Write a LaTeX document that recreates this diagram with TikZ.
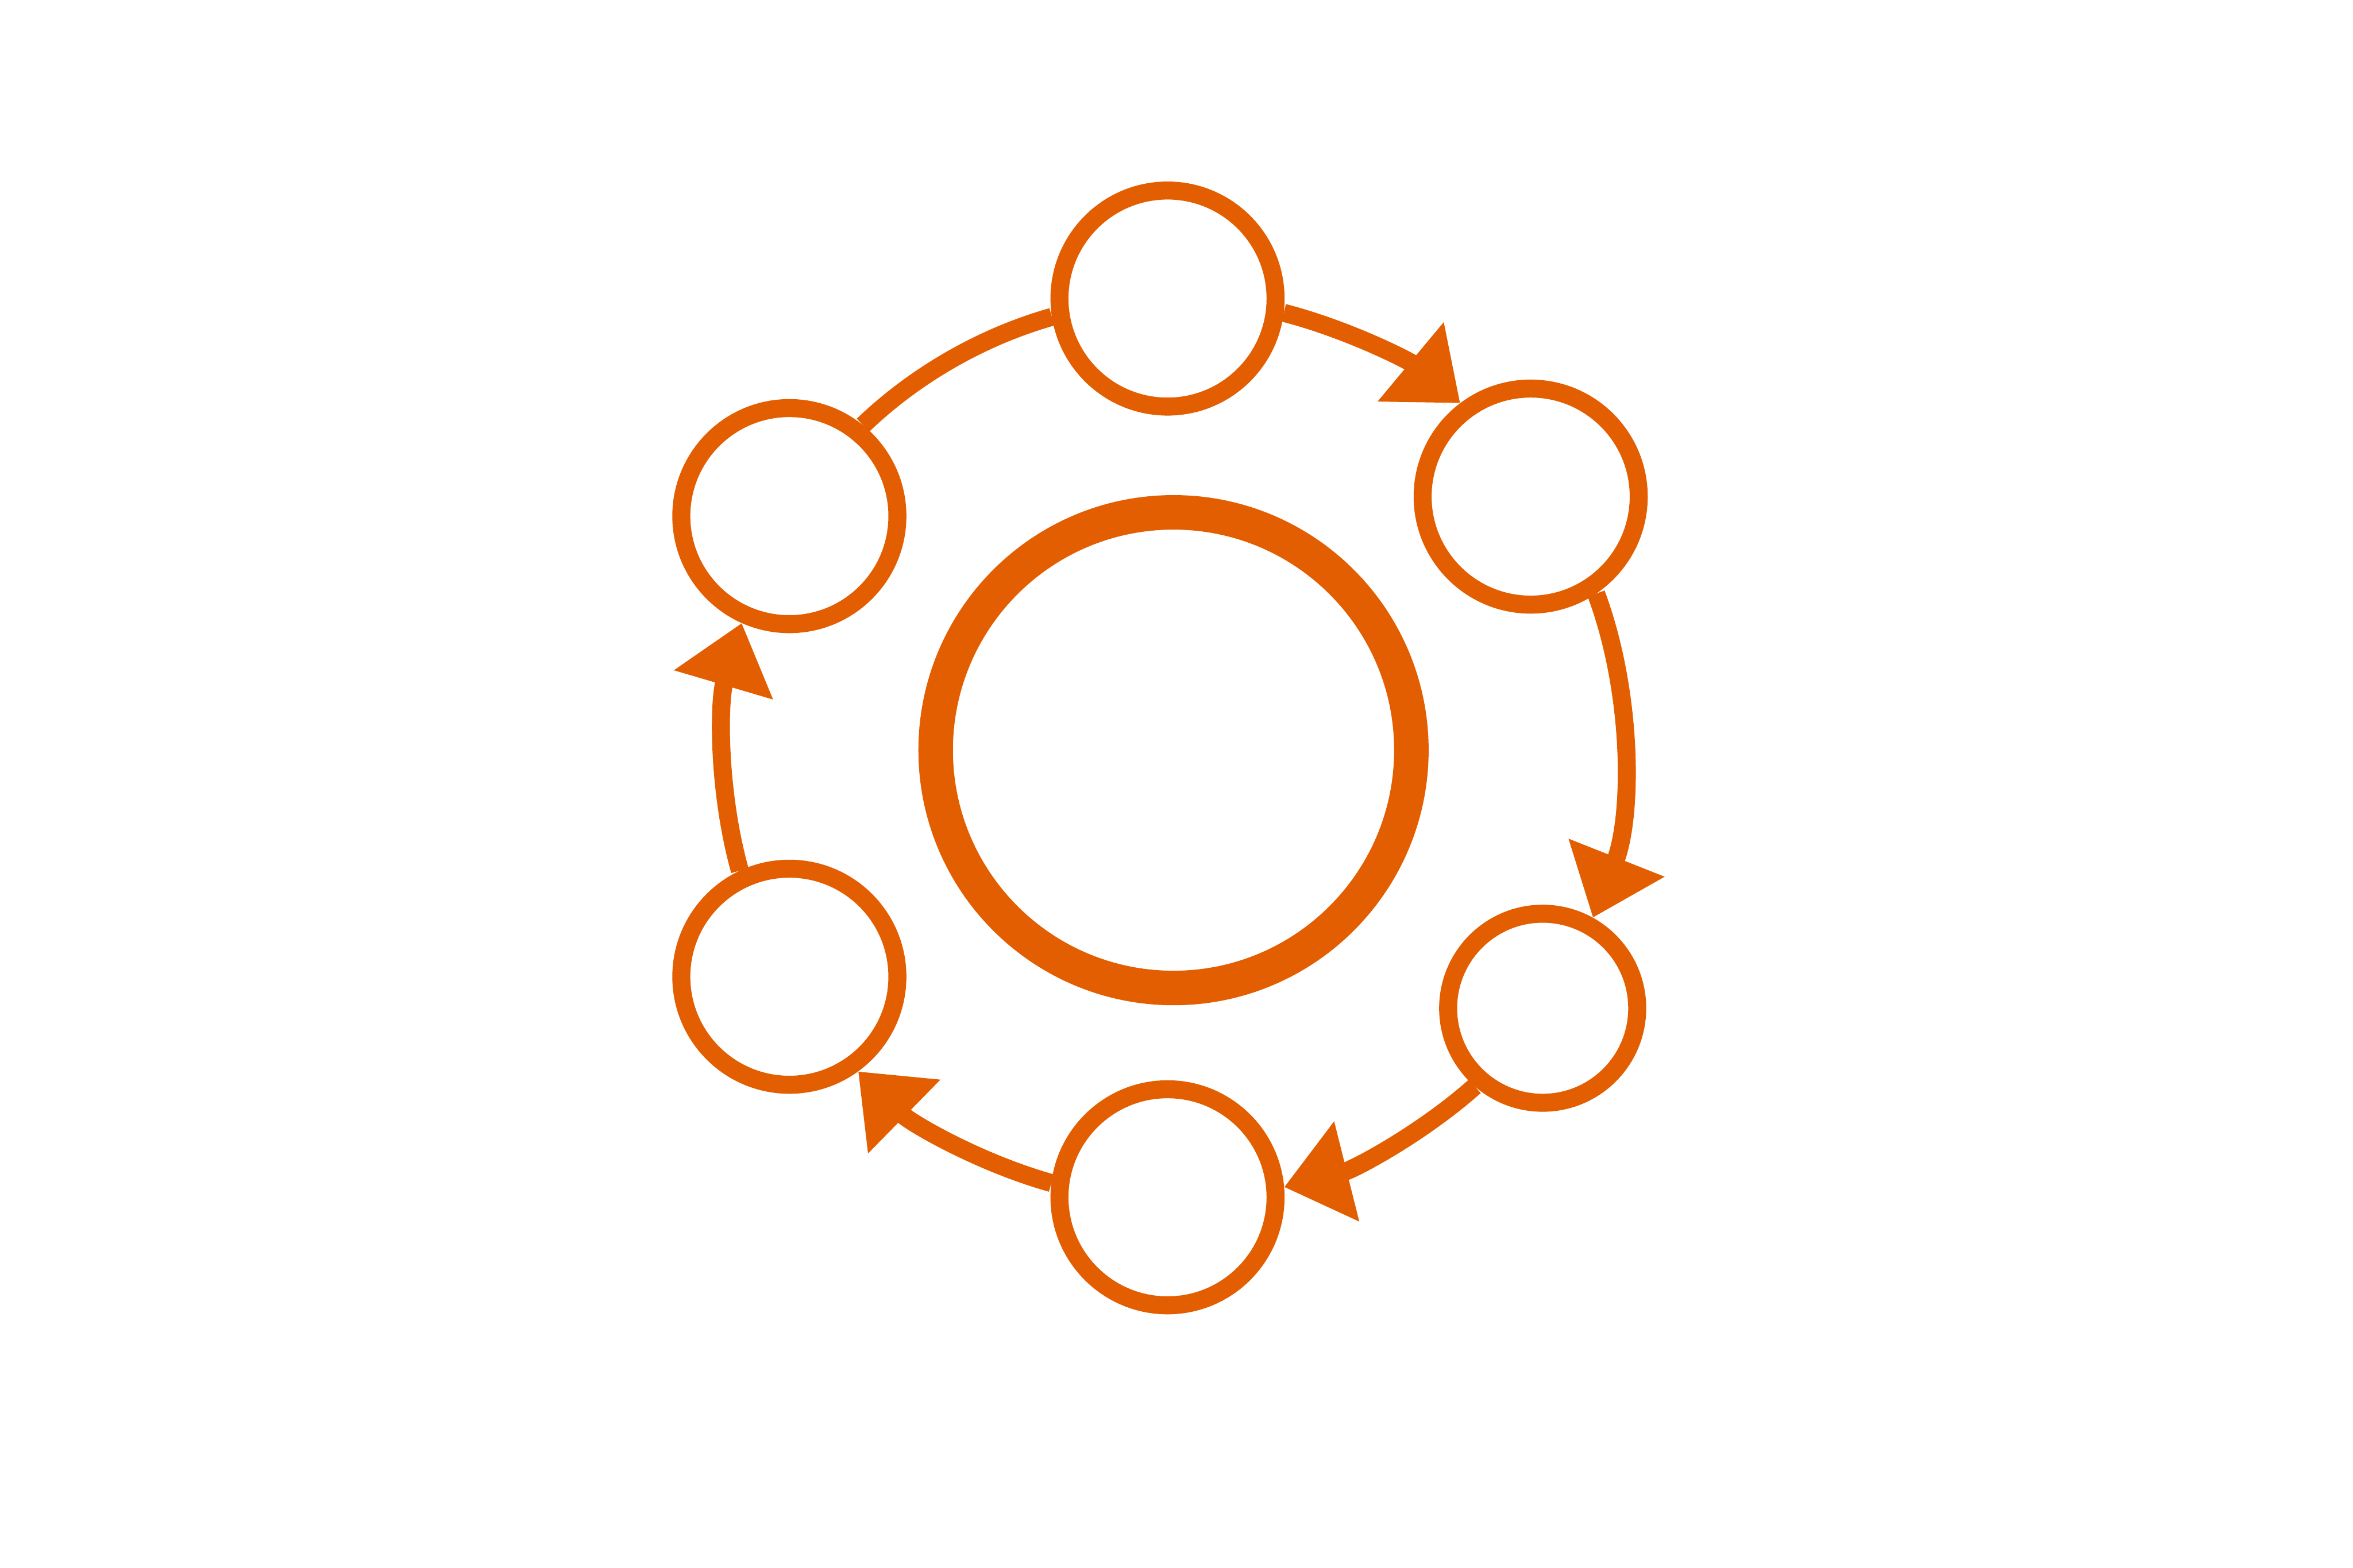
\documentclass[tikz,border=0pt]{standalone}
\usepackage{tikz}
\usetikzlibrary{arrows.meta}
\definecolor{rust}{HTML}{E35E00}

\begin{document}
\begin{tikzpicture}[
  stage/.style={circle, draw=rust, fill=white, line width=0.12cm, minimum size=1.44cm, inner sep=0pt},
  hubring/.style={circle, draw=rust, line width=0.23cm, minimum size=3.17cm, inner sep=0pt},
  arr/.style={-{Triangle[length=4.3mm, width=6.6mm]}, color=rust, line width=0.12cm, looseness=0.85},
  link/.style={color=rust, line width=0.12cm, looseness=0.85}
]
\useasboundingbox (0,0) rectangle (15.68,10.45);
\node[hubring] (hub) at (7.82,5.45) {};
\node[stage] (top) at (7.78,8.46) {};
\node[stage] (upright) at (10.20,7.14) {};
\node[stage, minimum size=1.26cm] (lowright) at (10.28,3.73) {};
\node[stage] (bottom) at (7.78,2.47) {};
\node[stage] (lowleft) at (5.26,3.94) {};
\node[stage] (upleft) at (5.26,7.01) {};
% arcs around the hub, clockwise
\draw[arr] (top.-7.45) to[bend left=12.7] (upright.127);
\draw[arr] (upright.-56.2) to[bend left=21] (lowright.61.8);
\draw[arr] (lowright.-131.7) to[bend left=13.8] (bottom.5.3);
\draw[arr] (bottom.173.2) to[bend left=14.4] (lowleft.-54);
\draw[arr] (lowleft.115.1) to[bend left=16] (upleft.-114);
\draw[link] (upleft.51.3) to[bend left=14] (top.189);
\end{tikzpicture}
\end{document}
